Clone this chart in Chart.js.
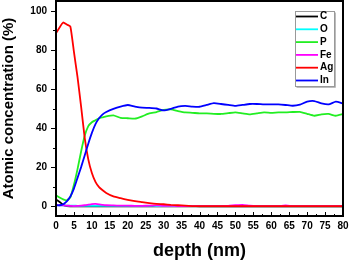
<!DOCTYPE html>
<html>
<head>
<meta charset="utf-8">
<style>
html,body{margin:0;padding:0;background:#fff;}
canvas{display:block;}
</style>
<script src="https://cdn.jsdelivr.net/npm/chart.js@4.4.1/dist/chart.umd.min.js"></script>
</head>
<body>
<canvas id="c" width="350" height="260"></canvas>
<script>
const depth = [0,1,2,3,4,5,6,7,8,9,10,11,12,13,14,16,18,20,22,24,26,28,30,32,34,36,38,40,42,44,46,48,50,52,54,56,58,60,62,64,66,68,70,72,74,76,78,80];
const seriesC  = [3.4,2.2,0.8,0.1,0,0,0,0,0,0,0,0,0,0,0,0,0,0,0,0,0,0,0,0,0,0,0,0,0,0,0,0,0,0,0,0,0,0,0,0,0,0,0,0,0,0,0,0];
const seriesO  = [0.6,0.5,0.4,0.3,0.3,0.3,0.2,0.2,0.2,0.2,0.2,0.2,0.2,0.2,0.2,0.2,0.2,0.2,0.2,0.2,0.2,0.1,0.1,0.1,0.1,0.1,0.1,0,0,0,0,0,0,0,0,0,0,0,0,0,0,0,0,0,0,0,0,0];
const seriesP  = [5.6,4.5,3.5,3.0,4.5,11,19,28,36,41,43,44,45,45.5,46,46.5,45.2,45,44.8,46,47.5,48.2,49.3,49.5,48.7,48,47.8,47.5,47.5,47.3,47.2,47.6,48,47.5,47,47.5,48,47.8,48,48,48.2,48.3,47.3,46.3,47,47.2,46.3,47.2];
const seriesFe = [0.6,0.5,0.4,0.3,0.2,0.1,0.2,0.3,0.5,0.8,1.1,1.2,1.0,0.7,0.5,0.4,0.3,0.3,0.2,0.2,0.3,0.4,0.2,0.2,0.1,0.1,0.1,0.1,0.1,0.1,0.1,0.2,0.5,0.7,0.3,0.1,0.1,0.1,0.1,0.4,0.1,0.1,0.1,0.1,0.1,0.1,0.1,0.1];
const seriesAg = [88.5,91.5,94,93,92,79,66,51,35,24,17,12.5,9.8,8.2,6.8,5,4.1,3.3,2.6,2.1,1.6,1.2,1.0,0.7,0.5,0.3,0.1,0,0,0,0,0,0,0,0,0,0,0,0,0,0,0,0,0,0,0,0,0];
const seriesIn = [0.5,0.5,1,2.5,5,9,14.5,20,26,32,37.5,42,45,47,48.2,49.8,51,51.8,51,50.4,50.3,50,49,49.8,51,51.3,51,50.9,51.8,52.7,52.3,51.8,51.3,51.8,52.3,52.3,52.1,52.1,52.1,51.8,51.4,52,53.5,53.8,52.6,52.1,53.5,52.6];
const seriesNames = ['C','O','P','Fe','Ag','In'];
const seriesColors = ['#000000','#00ffff','#22ee22','#ff00ff','#ff0000','#0000ff'];
const xTickLabels = [0,5,10,15,20,25,30,35,40,45,50,55,60,65,70,75,80];
const yTickLabels = [0,20,40,60,80,100];

const allSeries = [seriesC, seriesO, seriesP, seriesFe, seriesAg, seriesIn];
const FONT = "'Liberation Sans', Arial, sans-serif";

const datasets = allSeries.map((s, i) => ({
  label: seriesNames[i],
  data: s.map((v, j) => ({x: depth[j], y: v})),
  borderColor: seriesColors[i],
  backgroundColor: seriesColors[i],
  borderWidth: 1.8,
  pointRadius: 0,
  tension: 0.15,
  fill: false,
  order: allSeries.length - i
}));

const framePlugin = {
  id: 'frame',
  afterDatasetsDraw(chart) {
    const {ctx, chartArea: a, scales: {x, y}} = chart;
    ctx.save();
    ctx.strokeStyle = '#000';
    ctx.lineWidth = 2;
    ctx.strokeRect(a.left, a.top, a.right - a.left, a.bottom - a.top);
    ctx.lineWidth = 1;
    ctx.beginPath();
    for (let v = 0; v <= 80.001; v += 2.5) {
      const px = Math.round(x.getPixelForValue(v)) + 0.5;
      const len = (Math.abs(v % 5) < 0.01) ? 4 : 2;
      ctx.moveTo(px, a.bottom);
      ctx.lineTo(px, a.bottom - len);
    }
    for (let v = 0; v <= 100.001; v += 10) {
      const py = Math.round(y.getPixelForValue(v)) + 0.5;
      const len = (v % 20 === 0) ? 5 : 3;
      ctx.moveTo(a.left, py);
      ctx.lineTo(a.left - len, py);
    }
    ctx.stroke();
    ctx.restore();
  },
  afterDraw(chart) {
    const ctx = chart.ctx;
    const bx = 295, by = 11, bw = 39, bh = 75;
    ctx.save();
    ctx.fillStyle = '#fff';
    ctx.fillRect(bx, by, bw, bh);
    ctx.strokeStyle = '#999';
    ctx.lineWidth = 1;
    ctx.strokeRect(bx + 0.5, by + 0.5, bw, bh);
    ctx.strokeStyle = '#bbb';
    ctx.beginPath();
    ctx.moveTo(bx + 1.5, by + bh + 1.5);
    ctx.lineTo(bx + bw + 1.5, by + bh + 1.5);
    ctx.lineTo(bx + bw + 1.5, by + 1.5);
    ctx.stroke();
    ctx.font = "bold 10px " + FONT;
    ctx.textBaseline = 'middle';
    ctx.textAlign = 'left';
    chart.data.datasets.forEach((d, i) => {
      const yy = 16.5 + i * 12.8;
      ctx.strokeStyle = d.borderColor;
      ctx.lineWidth = 1.8;
      ctx.beginPath();
      ctx.moveTo(296, yy);
      ctx.lineTo(318, yy);
      ctx.stroke();
      ctx.fillStyle = '#000';
      ctx.fillText(d.label, 320, yy);
    });
    ctx.restore();
  }
};

new Chart(document.getElementById('c'), {
  type: 'line',
  data: { datasets },
  options: {
    responsive: false,
    animation: false,
    layout: { padding: { left: 0, right: 7, top: 1, bottom: 0 } },
    plugins: { legend: { display: false }, tooltip: { enabled: false } },
    scales: {
      x: {
        type: 'linear', min: 0, max: 80,
        afterBuildTicks: s => { s.ticks = xTickLabels.map(v => ({ value: v })); },
        afterFit: s => { s.height = 44; s.paddingLeft = 0; s.paddingRight = 0; },
        grid: { display: false, drawTicks: false },
        border: { display: false },
        ticks: { font: { family: FONT, weight: 'bold', size: 10 }, color: '#000', padding: 4, maxRotation: 0, autoSkip: false },
        title: { display: true, text: 'depth (nm)', color: '#000', font: { family: FONT, weight: 'bold', size: 18, lineHeight: 1 }, padding: { top: 0, bottom: 0 } }
      },
      y: {
        type: 'linear', min: -5, max: 105,
        afterBuildTicks: s => { s.ticks = yTickLabels.map(v => ({ value: v })); },
        afterFit: s => { s.width = 56; s.paddingTop = 0; s.paddingBottom = 0; },
        grid: { display: false, drawTicks: false },
        border: { display: false },
        ticks: { font: { family: FONT, weight: 'bold', size: 10 }, color: '#000', padding: 9 },
        title: { display: true, text: 'Atomic concentration (%)', color: '#000', font: { family: FONT, weight: 'bold', size: 15, lineHeight: 1.2 }, padding: { top: 0, bottom: 0 } }
      }
    }
  },
  plugins: [framePlugin]
});
</script>
</body>
</html>
